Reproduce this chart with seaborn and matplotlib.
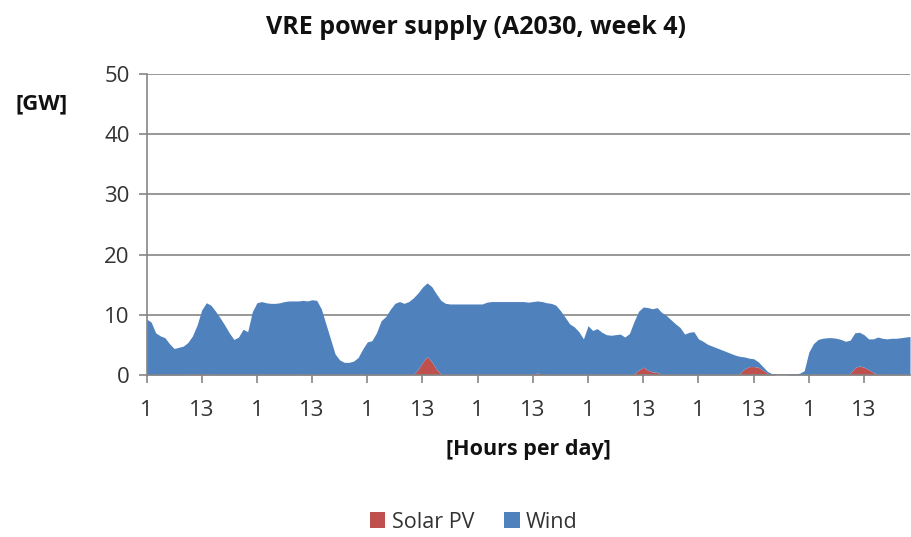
import numpy as np
import pandas as pd
import matplotlib
matplotlib.use("Agg")
import matplotlib.pyplot as plt
import seaborn as sns

hours = list(range(167))

solar_pv = [0.0] * 167
solar_vals = {
    10: 0.1, 11: 0.2, 12: 0.2, 13: 0.1,
    34: 0.1, 35: 0.1, 36: 0.1,
    58: 0.1, 59: 0.9, 60: 2.1, 61: 3.1, 62: 2.2, 63: 1.0, 64: 0.2,
    84: 0.2, 85: 0.3, 86: 0.2,
    106: 0.2, 107: 0.8, 108: 1.3, 109: 0.8, 110: 0.5, 111: 0.45, 112: 0.1,
    129: 0.3, 130: 1.0, 131: 1.4, 132: 1.4, 133: 1.3, 134: 0.8, 135: 0.3,
    153: 0.3, 154: 1.2, 155: 1.5, 156: 1.3, 157: 0.9, 158: 0.4, 159: 0.1,
}
for k, v in solar_vals.items():
    solar_pv[k] = v

wind = [
    # day 1 (0-23)
    9.3, 8.8, 7.0, 6.5, 6.2, 5.2, 4.4, 4.6, 4.8, 5.4, 6.4, 8.1, 10.6, 11.9, 11.6, 10.6,
    9.5, 8.3, 7.0, 5.9, 6.3, 7.6, 7.2, 10.5,
    # day 2 (24-47)
    12.0, 12.2, 12.0, 11.9, 11.9, 12.0, 12.2, 12.3, 12.3, 12.3, 12.3, 12.2, 12.4, 12.4, 11.0, 8.5,
    6.0, 3.5, 2.5, 2.1, 2.1, 2.3, 2.9, 4.3,
    # day 3 (48-71)
    5.5, 5.7, 7.0, 9.0, 9.7, 10.9, 11.9, 12.2, 11.9, 12.2, 12.7, 12.7, 12.5, 12.2, 12.5, 12.5,
    12.2, 11.9, 11.8, 11.8, 11.8, 11.8, 11.8, 11.8,
    # day 4 (72-95)
    11.8, 11.8, 12.1, 12.2, 12.2, 12.2, 12.2, 12.2, 12.2, 12.2, 12.2, 12.1, 12.0, 12.0, 12.0, 12.0,
    11.9, 11.6, 10.7, 9.6, 8.5, 8.0, 7.2, 6.0,
    # day 5 (96-119)
    8.2, 7.4, 7.7, 7.1, 6.7, 6.6, 6.7, 6.8, 6.3, 6.9, 8.7, 9.8, 10.0, 10.4, 10.5, 10.75,
    10.3, 9.9, 9.2, 8.5, 7.9, 6.8, 7.1, 7.2,
    # day 6 (120-143)
    6.0, 5.6, 5.1, 4.8, 4.5, 4.2, 3.9, 3.6, 3.3, 2.8, 2.0, 1.4, 1.3, 0.9, 0.6, 0.3,
    0.2, 0.0, 0.0, 0.0, 0.1, 0.15, 0.3, 0.7,
    # day 7 (144-166)
    3.8, 5.2, 5.9, 6.1, 6.2, 6.2, 6.1, 5.9, 5.6, 5.5, 5.8, 5.6, 5.4, 5.1, 5.6, 6.2,
    6.1, 6.0, 6.1, 6.1, 6.2, 6.3, 6.4,
]

tick_positions = list(range(0, 167, 12))
tick_labels = ["1" if t % 24 == 0 else "13" for t in tick_positions]

df = pd.DataFrame({"hour": hours, "Solar PV": solar_pv, "Wind": wind})

sns.set_theme(style="white")
plt.rcParams["font.family"] = ["Open Sans", "DejaVu Sans"]

fig = plt.figure(figsize=(9.12, 5.37), dpi=100)
ax = fig.add_axes([146.5 / 912, 1 - 375 / 537, (910 - 146.5) / 912, (375 - 74) / 537])

solar_color = "#C0504D"
wind_color = "#4F81BD"
ax.stackplot(df["hour"], df["Solar PV"], df["Wind"],
             colors=[solar_color, wind_color], labels=["Solar PV", "Wind"],
             linewidth=0, zorder=3)

ax.set_xlim(0, 166)
ax.set_ylim(0, 50)
ax.set_yticks([0, 10, 20, 30, 40, 50])
ax.set_xticks(tick_positions)
ax.set_xticklabels(tick_labels)

grid_color = "#868686"
ax.yaxis.grid(True, color=grid_color, linewidth=1.2, zorder=0)
ax.xaxis.grid(False)
sns.despine(ax=ax, top=True, right=True)
for side in ["left", "bottom"]:
    ax.spines[side].set_color(grid_color)
    ax.spines[side].set_linewidth(1.2)
    ax.spines[side].set_zorder(4)

ax.tick_params(axis="both", which="major", direction="out", length=6, width=1.2,
               color=grid_color, labelsize=16, labelcolor="#333333")
ax.tick_params(axis="y", pad=6)
ax.tick_params(axis="x", pad=12)
ax.tick_params(left=True, bottom=True)

fig.text(476 / 912, 1 - 27 / 537, "VRE power supply (A2030, week 4)",
         ha="center", va="center", fontsize=18, fontweight="bold", color="#111111")
fig.text(42 / 912, 1 - 104 / 537, "[GW]", ha="center", va="center",
         fontsize=16, fontweight="bold", color="#111111")
fig.text(528 / 912, 1 - 450 / 537, "[Hours per day]", ha="center", va="center",
         fontsize=15.5, fontweight="bold", color="#111111")

handles, labels = ax.get_legend_handles_labels()
leg = fig.legend(handles, labels, loc="center", bbox_to_anchor=(474 / 912, 1 - 522 / 537),
                 ncol=2, frameon=False, fontsize=15.5, handlelength=0.7, handleheight=0.7,
                 columnspacing=1.4, handletextpad=0.3)
for t in leg.get_texts():
    t.set_color("#333333")

fig.savefig("out.png", dpi=100)
